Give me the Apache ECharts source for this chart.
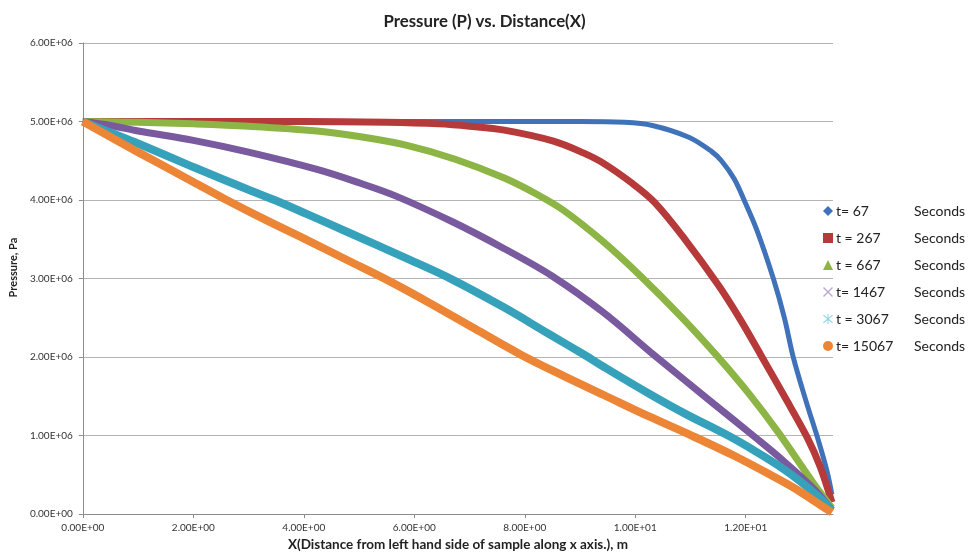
<!DOCTYPE html>
<html><head><meta charset="utf-8">
<script src="https://cdn.jsdelivr.net/npm/echarts@6/dist/echarts.min.js"></script>
<style>html,body{margin:0;padding:0;background:#fff}#c{width:969px;height:557px}</style>
</head><body><div id="c"></div><script>
// ---- data (x in m, P in Pa) ----
const seriesNames = ['t= 67', 't = 267', 't = 667', 't= 1467', 't = 3067', 't= 15067'];

const x_t67 = [0, 2, 4, 6, 8, 9, 9.8, 10.31, 10.97, 11.38, 11.56, 11.79, 11.97, 12.2, 12.5, 12.7, 12.86, 13.1, 13.31, 13.47, 13.56];
const p_t67 = [5.00e6, 5.00e6, 5.00e6, 5.00e6, 5.00e6, 5.00e6, 4.99e6, 4.95e6, 4.80e6, 4.62e6, 4.50e6, 4.27e6, 4.00e6, 3.62e6, 3.00e6, 2.50e6, 2.00e6, 1.42e6, 0.95e6, 0.55e6, 0.25e6];

const x_t267 = [0, 2, 4, 5.5, 6.44, 7.0, 7.63, 8.52, 9.06, 9.42, 9.95, 10.35, 10.9, 11.5, 11.9, 12.27, 12.7, 13.11, 13.35, 13.56];
const p_t267 = [5.00e6, 5.00e6, 5.00e6, 4.99e6, 4.97e6, 4.94e6, 4.89e6, 4.75e6, 4.60e6, 4.47e6, 4.21e6, 3.97e6, 3.50e6, 2.92e6, 2.48e6, 2.03e6, 1.50e6, 0.98e6, 0.60e6, 0.15e6];

const x_t667 = [0, 1, 2, 3, 4.24, 5, 5.85, 6.74, 7.63, 8.2, 8.7, 9.42, 10.1, 10.85, 11.5, 12.04, 12.58, 13.22, 13.56];
const p_t667 = [5.00e6, 4.99e6, 4.97e6, 4.94e6, 4.88e6, 4.81e6, 4.70e6, 4.52e6, 4.28e6, 4.08e6, 3.87e6, 3.47e6, 3.03e6, 2.50e6, 2.00e6, 1.55e6, 1.05e6, 0.40e6, 0.08e6];

const x_t1467 = [0, 0.5, 1, 2, 3, 4.24, 5.0, 5.67, 6.7, 7.63, 8.5, 9.42, 10.35, 11.43, 12.15, 12.63, 13.22, 13.56];
const p_t1467 = [5.00e6, 4.95e6, 4.88e6, 4.76e6, 4.61e6, 4.39e6, 4.22e6, 4.05e6, 3.72e6, 3.38e6, 3.03e6, 2.57e6, 2.02e6, 1.40e6, 0.99e6, 0.71e6, 0.33e6, 0.05e6];

const x_t3067 = [0, 0.5, 1, 2, 3, 3.47, 4.06, 4.8, 5.85, 6.68, 7.63, 8.4, 9.1, 9.42, 10.26, 10.9, 11.68, 12.2, 12.63, 13.0, 13.3, 13.56];
const p_t3067 = [5.00e6, 4.86e6, 4.72e6, 4.42e6, 4.13e6, 4.00e6, 3.82e6, 3.59e6, 3.26e6, 2.99e6, 2.63e6, 2.31e6, 2.02e6, 1.88e6, 1.53e6, 1.28e6, 1.00e6, 0.79e6, 0.60e6, 0.41e6, 0.23e6, 0.05e6];

const x_t15067 = [0, 1, 2, 2.55, 3.3, 4.06, 4.8, 5.54, 6.3, 7.1, 7.93, 8.7, 9.42, 10.26, 11.02, 11.8, 12.5, 12.93, 13.3, 13.56];
const p_t15067 = [5.00e6, 4.61e6, 4.23e6, 4.02e6, 3.75e6, 3.49e6, 3.23e6, 2.97e6, 2.68e6, 2.36e6, 2.03e6, 1.76e6, 1.52e6, 1.24e6, 1.00e6, 0.74e6, 0.48e6, 0.31e6, 0.14e6, 0.02e6];

const xTickLabels = ['0.00E+00', '2.00E+00', '4.00E+00', '6.00E+00', '8.00E+00', '1.00E+01', '1.20E+01'];
const yTickLabels = ['0.00E+00', '1.00E+06', '2.00E+06', '3.00E+06', '4.00E+06', '5.00E+06', '6.00E+06'];

// ---- styling ----
const colors = ['#3f72b8', '#b63a39', '#8cb545', '#7a5a9f', '#36a1bb', '#ec8535'];
const legendColors = ['#3f72b8', '#b63a39', '#8cb545', '#b9aad3', '#8fd3e6', '#ec8535'];
const iconX = 'path://M0,1 L1,0 L5,4 L9,0 L10,1 L6,5 L10,9 L9,10 L5,6 L1,10 L0,9 L4,5 Z';
const iconStar = 'path://M0,1.5 L0.8,0.7 L5,4.2 L9.2,0.7 L10,1.5 L5.8,5 L10,8.5 L9.2,9.3 L5,5.8 L0.8,9.3 L0,8.5 L4.2,5 Z M4.5,0 L5.5,0 L5.5,10 L4.5,10 Z';
const icons = ['diamond', 'rect', 'triangle', iconX, iconStar, 'circle'];
const xs = [x_t67, x_t267, x_t667, x_t1467, x_t3067, x_t15067];
const ps = [p_t67, p_t267, p_t667, p_t1467, p_t3067, p_t15067];
const widths = [5, 7, 7, 7, 8, 8];

const FONT = 'Lato, "Open Sans", sans-serif';
const chart = echarts.init(document.getElementById('c'));
chart.setOption({
  animation: false,
  backgroundColor: '#fff',
  title: {
    text: 'Pressure (P) vs. Distance(X)',
    left: 'center', top: 8,
    textStyle: { fontFamily: FONT, fontSize: 16.8, fontWeight: 'bold', color: '#222' }
  },
  grid: { left: 72.7, right: 136, top: 43, bottom: 34.3, containLabel: false },
  legend: {
    orient: 'vertical', left: 823, top: 204, padding: 0,
    itemWidth: 10, itemHeight: 10, itemGap: 13,
    data: seriesNames.map((n, i) => ({ name: n, icon: icons[i], itemStyle: { color: legendColors[i] } })),
    formatter: n => '{n|' + n + '}{s|Seconds}',
    textStyle: {
      fontFamily: FONT, fontSize: 14, color: '#222', lineHeight: 14,
      rich: {
        n: { fontFamily: FONT, fontSize: 14, color: '#222', width: 78, lineHeight: 14, padding: [0, 0, 0, -2] },
        s: { fontFamily: FONT, fontSize: 14, color: '#222', lineHeight: 14 }
      }
    }
  },
  xAxis: {
    type: 'value', min: 0, max: 13.58, interval: 2,
    name: 'X(Distance from left hand side of sample along x axis.), m',
    nameLocation: 'middle', nameGap: 19,
    nameTextStyle: { fontFamily: FONT, fontSize: 13.5, fontWeight: 'bold', color: '#222' },
    axisLine: { show: true, lineStyle: { color: '#8c8c8c', width: 1 } },
    axisTick: { show: true, length: 4, lineStyle: { color: '#8c8c8c' } },
    splitLine: { show: false },
    axisLabel: {
      showMaxLabel: false, margin: 9,
      fontFamily: FONT, fontSize: 10, color: '#333',
      formatter: v => xTickLabels[Math.round(v / 2)] || ''
    }
  },
  yAxis: {
    type: 'value', min: 0, max: 6e6, interval: 1e6,
    name: 'Pressure, Pa', nameLocation: 'middle', nameGap: 57,
    nameTextStyle: { fontFamily: FONT, fontSize: 11, fontWeight: 'bold', color: '#222', padding: [0, 0, 0, 22] },
    axisLine: { show: true, lineStyle: { color: '#8c8c8c', width: 1 } },
    axisTick: { show: true, length: 4, lineStyle: { color: '#8c8c8c' } },
    splitLine: { show: true, lineStyle: { color: '#b4b4b4', width: 1 } },
    axisLabel: {
      margin: 10, fontFamily: FONT, fontSize: 10, color: '#333',
      formatter: v => yTickLabels[Math.round(v / 1e6)] || ''
    }
  },
  series: seriesNames.map((n, i) => ({
    name: n, type: 'line', smooth: 0.35,
    showSymbol: false, symbol: icons[i],
    color: colors[i],
    lineStyle: { color: colors[i], width: widths[i] },
    itemStyle: { color: colors[i] },
    data: xs[i].map((x, k) => [x, ps[i][k]])
  }))
});
</script></body></html>
